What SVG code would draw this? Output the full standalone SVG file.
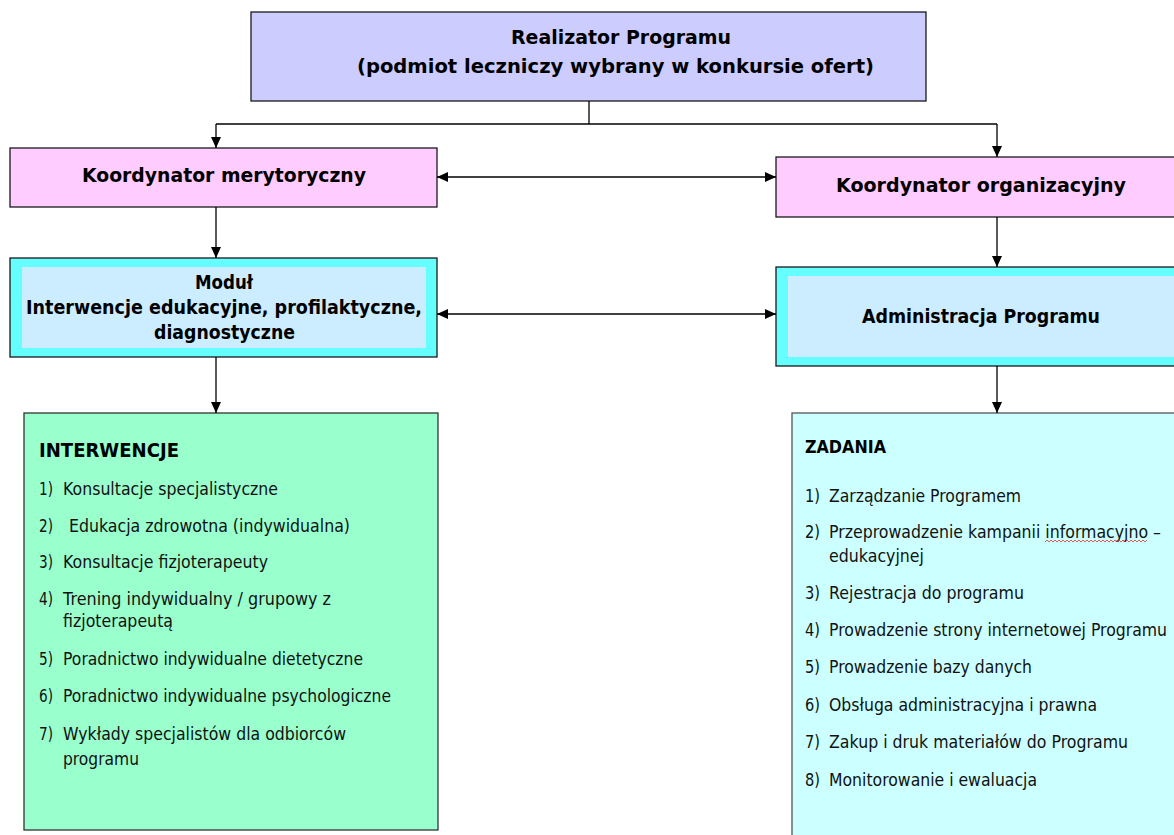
<svg xmlns="http://www.w3.org/2000/svg" width="1174" height="835" viewBox="0 0 1174 835">
<style>
.box{stroke:#1a1a1a;stroke-width:1.3}
.h{font-family:"DejaVu Sans",Verdana,sans-serif;font-weight:bold;font-size:20px;fill:#000}
.t{font-family:"DejaVu Sans",Verdana,sans-serif;font-size:18.5px;fill:#111}
.z{font-family:"DejaVu Sans",Verdana,sans-serif;font-size:17px;fill:#111}
.hd{font-family:"DejaVu Sans",Verdana,sans-serif;font-weight:bold;fill:#000}
.c{fill:none;stroke:#000;stroke-width:1.3}
</style>
<defs>
<marker id="arr" markerUnits="userSpaceOnUse" markerWidth="12" markerHeight="11" refX="11" refY="5" orient="auto-start-reverse">
<path d="M0,0 L11,5 L0,10 Z" fill="#000"/>
</marker>
</defs>
<rect width="1174" height="835" fill="#fff"/>

<g id="realizator">
<rect class="box" x="251" y="12" width="675" height="89" fill="#CCCCFF"/>
<text class="h" x="511" y="44" textLength="220" lengthAdjust="spacingAndGlyphs">Realizator Programu</text>
<text class="h" x="357" y="73" textLength="517" lengthAdjust="spacingAndGlyphs">(podmiot leczniczy wybrany w konkursie ofert)</text>
</g>

<g id="koord-merytoryczny">
<rect class="box" x="10" y="148" width="427" height="59" fill="#FFCCFF"/>
<text class="h" x="82" y="182" font-size="20.5" textLength="284" lengthAdjust="spacingAndGlyphs">Koordynator merytoryczny</text>
</g>

<g id="koord-organizacyjny">
<rect class="box" x="776" y="157" width="410" height="60" fill="#FFCCFF"/>
<text class="h" x="836" y="192" font-size="20.5" textLength="290" lengthAdjust="spacingAndGlyphs">Koordynator organizacyjny</text>
</g>

<g id="modul">
<rect class="box" x="10" y="258" width="427" height="99" fill="#66FFFF"/>
<rect x="22" y="267" width="404" height="81" fill="#CCECFF"/>
<text class="h" x="195" y="289" textLength="58" lengthAdjust="spacingAndGlyphs">Moduł</text>
<text class="h" x="26" y="314" textLength="396" lengthAdjust="spacingAndGlyphs">Interwencje edukacyjne, profilaktyczne,</text>
<text class="h" x="154" y="339" textLength="141" lengthAdjust="spacingAndGlyphs">diagnostyczne</text>
</g>

<g id="administracja">
<rect class="box" x="776" y="267" width="410" height="99" fill="#66FFFF"/>
<rect x="788" y="276" width="400" height="81" fill="#CCECFF"/>
<text class="h" x="862" y="323" textLength="238" lengthAdjust="spacingAndGlyphs">Administracja Programu</text>
</g>

<g id="interwencje">
<rect x="24" y="413" width="414" height="417" fill="#99FFCC" stroke="#333" stroke-width="1.3"/>
<text class="hd" x="39" y="457" font-size="20" textLength="140" lengthAdjust="spacingAndGlyphs">INTERWENCJE</text>
<text class="t" x="39" y="495" textLength="14" lengthAdjust="spacingAndGlyphs">1)</text>
<text class="t" x="63" y="495" textLength="215" lengthAdjust="spacingAndGlyphs">Konsultacje specjalistyczne</text>
<text class="t" x="39" y="532" textLength="14" lengthAdjust="spacingAndGlyphs">2)</text>
<text class="t" x="69" y="532" textLength="281" lengthAdjust="spacingAndGlyphs">Edukacja zdrowotna (indywidualna)</text>
<text class="t" x="39" y="568" textLength="14" lengthAdjust="spacingAndGlyphs">3)</text>
<text class="t" x="63" y="568" textLength="205" lengthAdjust="spacingAndGlyphs">Konsultacje fizjoterapeuty</text>
<text class="t" x="39" y="605" textLength="14" lengthAdjust="spacingAndGlyphs">4)</text>
<text class="t" x="63" y="605" textLength="268" lengthAdjust="spacingAndGlyphs">Trening indywidualny / grupowy z</text>
<text class="t" x="63" y="627" textLength="110" lengthAdjust="spacingAndGlyphs">fizjoterapeutą</text>
<text class="t" x="39" y="665" textLength="14" lengthAdjust="spacingAndGlyphs">5)</text>
<text class="t" x="63" y="665" textLength="300" lengthAdjust="spacingAndGlyphs">Poradnictwo indywidualne dietetyczne</text>
<text class="t" x="39" y="702" textLength="14" lengthAdjust="spacingAndGlyphs">6)</text>
<text class="t" x="63" y="702" textLength="328" lengthAdjust="spacingAndGlyphs">Poradnictwo indywidualne psychologiczne</text>
<text class="t" x="39" y="740" textLength="14" lengthAdjust="spacingAndGlyphs">7)</text>
<text class="t" x="63" y="740" textLength="283" lengthAdjust="spacingAndGlyphs">Wykłady specjalistów dla odbiorców</text>
<text class="t" x="63" y="765" textLength="76" lengthAdjust="spacingAndGlyphs">programu</text>
</g>

<g id="zadania">
<rect x="792" y="413" width="400" height="430" fill="#CCFFFF" stroke="#555" stroke-width="1.3"/>
<text class="hd" x="805" y="453" font-size="17" textLength="81" lengthAdjust="spacingAndGlyphs">ZADANIA</text>
<text class="z" x="805" y="502" textLength="15" lengthAdjust="spacingAndGlyphs">1)</text>
<text class="z" x="829" y="502" textLength="192" lengthAdjust="spacingAndGlyphs">Zarządzanie Programem</text>
<text class="z" x="805" y="538" textLength="15" lengthAdjust="spacingAndGlyphs">2)</text>
<text class="z" transform="translate(829,538) scale(0.9,1)" textLength="368.9" lengthAdjust="spacingAndGlyphs">Przeprowadzenie kampanii informacyjno –</text>
<path d="M1045,542 l2,-2 l2,2 l2,-2 l2,2 l2,-2 l2,2 l2,-2 l2,2 l2,-2 l2,2 l2,-2 l2,2 l2,-2 l2,2 l2,-2 l2,2 l2,-2 l2,2 l2,-2 l2,2 l2,-2 l2,2 l2,-2 l2,2 l2,-2 l2,2 l2,-2 l2,2 l2,-2 l2,2 l2,-2 l2,2 l2,-2 l2,2 l2,-2 l2,2 l2,-2 l2,2 l2,-2 l2,2 l2,-2 l2,2 l2,-2 l2,2 l2,-2 l2,2 l2,-2 l2,2 l2,-2 l2,2 l2,-2" fill="none" stroke="#e03030" stroke-width="0.8"/>
<text class="z" x="829" y="562" textLength="95" lengthAdjust="spacingAndGlyphs">edukacyjnej</text>
<text class="z" x="805" y="599" textLength="15" lengthAdjust="spacingAndGlyphs">3)</text>
<text class="z" x="829" y="599" textLength="195" lengthAdjust="spacingAndGlyphs">Rejestracja do programu</text>
<text class="z" x="805" y="636" textLength="15" lengthAdjust="spacingAndGlyphs">4)</text>
<text class="z" transform="translate(829,636) scale(0.9,1)" textLength="375.6" lengthAdjust="spacingAndGlyphs">Prowadzenie strony internetowej Programu</text>
<text class="z" x="805" y="673" textLength="15" lengthAdjust="spacingAndGlyphs">5)</text>
<text class="z" x="829" y="673" textLength="203" lengthAdjust="spacingAndGlyphs">Prowadzenie bazy danych</text>
<text class="z" x="805" y="711" textLength="15" lengthAdjust="spacingAndGlyphs">6)</text>
<text class="z" x="829" y="711" textLength="268" lengthAdjust="spacingAndGlyphs">Obsługa administracyjna i prawna</text>
<text class="z" x="805" y="748" textLength="15" lengthAdjust="spacingAndGlyphs">7)</text>
<text class="z" x="829" y="748" textLength="299" lengthAdjust="spacingAndGlyphs">Zakup i druk materiałów do Programu</text>
<text class="z" x="805" y="786" textLength="15" lengthAdjust="spacingAndGlyphs">8)</text>
<text class="z" x="829" y="786" textLength="208" lengthAdjust="spacingAndGlyphs">Monitorowanie i ewaluacja</text>
</g>

<g id="connectors">
<polyline class="c" points="589,101 589,124"/>
<polyline class="c" points="216,124 997,124"/>
<line class="c" x1="216" y1="124" x2="216" y2="148" marker-end="url(#arr)"/>
<line class="c" x1="997" y1="124" x2="997" y2="157" marker-end="url(#arr)"/>
<line class="c" x1="437" y1="177" x2="776" y2="177" marker-start="url(#arr)" marker-end="url(#arr)"/>
<line class="c" x1="216" y1="207" x2="216" y2="258" marker-end="url(#arr)"/>
<line class="c" x1="997" y1="217" x2="997" y2="267" marker-end="url(#arr)"/>
<line class="c" x1="437" y1="314" x2="776" y2="314" marker-start="url(#arr)" marker-end="url(#arr)"/>
<line class="c" x1="216" y1="357" x2="216" y2="413" marker-end="url(#arr)"/>
<line class="c" x1="997" y1="366" x2="997" y2="413" marker-end="url(#arr)"/>
</g>
</svg>
